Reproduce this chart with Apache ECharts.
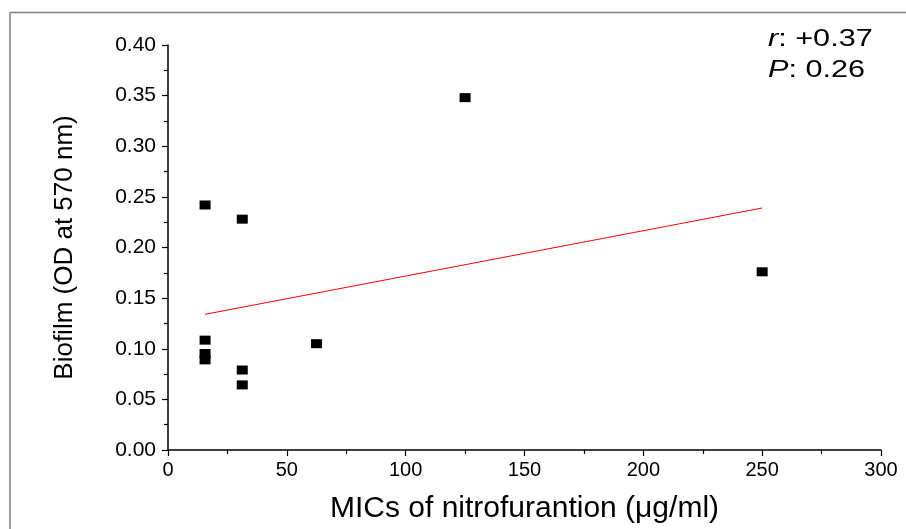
<!DOCTYPE html>
<html><head><meta charset="utf-8">
<script src="https://cdn.jsdelivr.net/npm/echarts@6/dist/echarts.min.js"></script>
<style>html,body{margin:0;padding:0;background:#fff}#c{width:906px;height:529px}</style>
</head><body><div id="c"></div>
<script>
// MIC (µg/ml) and biofilm OD at 570 nm
const micValues = [15.6, 15.6, 15.6, 15.6, 31.25, 31.25, 31.25, 62.5, 125, 250];
const biofilmValues = [0.242, 0.1085, 0.0953, 0.089, 0.228, 0.079, 0.0643, 0.105, 0.348, 0.176];
// fitted line endpoints
const fitX = [15.6, 250];
const fitY = [0.134, 0.239];
const statsLines = ['r', ': +0.37', 'P', ': 0.26'];

const chart = echarts.init(document.getElementById('c'), null, {renderer: 'canvas'});
const pts = micValues.map((x, i) => [x, biofilmValues[i]]);
const fit = fitX.map((x, i) => [x, fitY[i]]);
const font = 'Liberation Sans, Arial, sans-serif';
chart.setOption({
  animation: false,
  backgroundColor: '#fff',
  grid: {left: 168, right: 25, top: 45, bottom: 77, containLabel: false},
  xAxis: {
    type: 'value', min: 0, max: 300, interval: 50,
    name: 'MICs of nitrofurantion (\u03bcg/ml)', nameLocation: 'middle', nameGap: 44,
    nameTextStyle: {fontFamily: font, fontSize: 30, color: '#000'},
    axisLine: {show: true, onZero: false, lineStyle: {color: '#000', width: 1.5}},
    axisTick: {show: true, inside: false, length: 6, lineStyle: {color: '#000', width: 1.2}},
    minorTick: {show: true, splitNumber: 2, length: 4, lineStyle: {color: '#000', width: 1.2}},
    axisLabel: {fontFamily: font, fontSize: 20, color: '#000', margin: 10},
    splitLine: {show: false}
  },
  yAxis: {
    type: 'value', min: 0, max: 0.4, interval: 0.05,
    name: 'Biofilm (OD at 570 nm)', nameLocation: 'middle', nameGap: 90,
    nameTextStyle: {fontFamily: font, fontSize: 26, color: '#000'},
    axisLine: {show: true, onZero: false, lineStyle: {color: '#000', width: 1.5}},
    axisTick: {show: true, inside: false, length: 6, lineStyle: {color: '#000', width: 1.2}},
    minorTick: {show: true, splitNumber: 2, length: 4, lineStyle: {color: '#000', width: 1.2}},
    axisLabel: {fontFamily: font, fontSize: 21, color: '#000', margin: 12,
      formatter: v => v.toFixed(2)},
    splitLine: {show: false}
  },
  series: [
    {type: 'scatter', data: pts, symbol: 'rect', symbolSize: [11, 9],
     itemStyle: {color: '#000', opacity: 1}, z: 3},
    {type: 'line', data: fit, symbol: 'none', lineStyle: {color: '#ff0000', width: 1},
     z: 2}
  ],
  graphic: [
    {type: 'line', shape: {x1: 10, y1: 12.5, x2: 906, y2: 12.5}, style: {stroke: '#808080', lineWidth: 1.5}},
    {type: 'line', shape: {x1: 10, y1: 12.5, x2: 10, y2: 529}, style: {stroke: '#808080', lineWidth: 1.5}},
    {type: 'text', left: 768, top: 23, scaleX: 1.25, style: {
      text: '{i|' + statsLines[0] + '}{n|' + statsLines[1] + '}\n{i|' + statsLines[2] + '}{n|' + statsLines[3] + '}',
      align: 'left', lineHeight: 31.5,
      rich: {
        i: {fontFamily: font, fontStyle: 'italic', fontSize: 24.5, color: '#000', lineHeight: 31.5},
        n: {fontFamily: font, fontSize: 24.5, color: '#000', lineHeight: 31.5}
      }
    }}
  ]
});
</script></body></html>
